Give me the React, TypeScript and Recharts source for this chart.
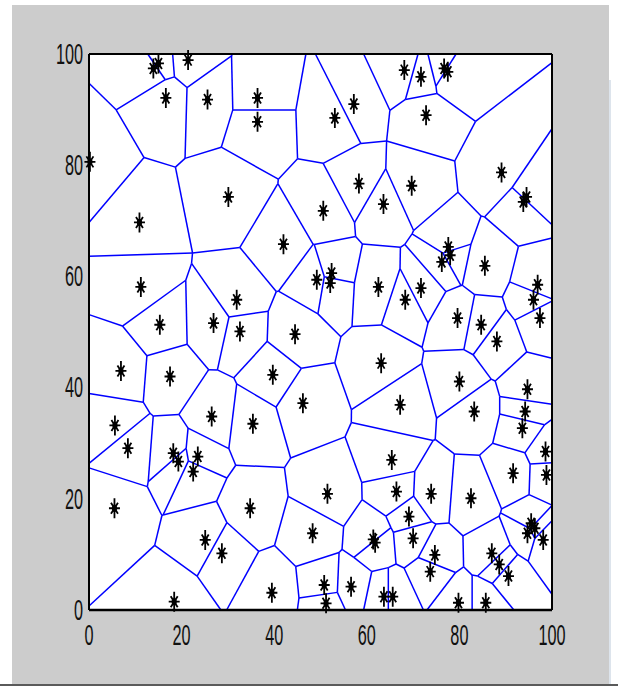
import { ScatterChart, Scatter, XAxis, YAxis, ReferenceLine } from 'recharts';

// seed points (x, y)
const pointX = [
  13.9, 15.0, 21.4, 16.6, 25.6, 0.2, 30.1, 10.9, 36.4, 36.4, 53.1, 57.2, 58.3, 63.6, 50.6, 42.0,
  68.1, 71.7, 76.7, 77.5, 72.8, 89.1, 94.5, 93.8, 69.7, 77.6, 78.0, 76.2, 85.5, 71.7, 68.3, 96.9,
  96.0, 97.4, 79.6, 84.7, 88.1, 80.0, 94.7, 94.2, 93.6, 83.2, 67.2, 11.2, 15.3, 31.9, 26.9, 32.6,
  6.9, 17.5, 5.6, 26.5, 49.2, 52.4, 52.1, 62.5, 44.5, 63.1, 39.7, 46.2, 35.4, 8.4, 18.2, 19.3,
  23.5, 22.5, 5.5, 25.1, 28.7, 18.4, 65.4, 66.4, 51.5, 34.8, 48.3, 61.4, 61.8, 39.5, 50.8, 51.2,
  56.6, 63.7, 65.6, 98.6, 98.8, 91.6, 73.9, 82.5, 69.1, 70.0, 95.5, 96.3, 94.7, 98.1, 74.7, 73.7,
  87.0, 88.6, 90.6, 79.8, 85.7,
];
const pointY = [
  97.4, 98.3, 98.9, 92.1, 91.8, 80.6, 74.3, 69.7, 92.1, 87.8, 88.5, 91.0, 76.7, 73.0, 71.8, 65.8,
  97.1, 95.9, 97.4, 96.8, 89.0, 78.7, 74.3, 73.4, 76.3, 65.3, 63.8, 62.6, 61.9, 57.9, 55.8, 58.5,
  55.8, 52.5, 52.5, 51.3, 48.3, 41.1, 39.7, 35.7, 32.7, 35.7, 36.9, 58.1, 51.3, 55.8, 51.6, 50.1,
  43.0, 42.0, 33.2, 34.8, 59.4, 60.6, 58.8, 58.1, 49.6, 44.4, 42.3, 37.2, 33.5, 29.1, 28.2, 26.7,
  27.6, 24.9, 18.3, 12.6, 10.2, 1.5, 27.0, 21.3, 20.9, 18.3, 13.8, 12.7, 12.1, 3.1, 4.5, 1.2,
  4.2, 2.4, 2.4, 28.5, 24.3, 24.6, 20.9, 20.1, 16.8, 12.9, 15.6, 14.7, 13.8, 12.6, 9.9, 6.9,
  10.2, 8.2, 6.1, 1.3, 1.3,
];

const xTicks = [0, 20, 40, 60, 80, 100];
const yTicks = [0, 20, 40, 60, 80, 100];
const domain: [number, number] = [0, 100];

const points = pointX.map((x, i) => ({ x, y: pointY[i] }));

type V = { x: number; y: number; e: number };

// each cell = box clipped by the bisectors; e holds the neighbour index of the edge
function voronoiEdges(px: number[], py: number[], lo: number, hi: number) {
  const segs: { x1: number; y1: number; x2: number; y2: number }[] = [];
  for (let i = 0; i < px.length; i++) {
    let poly: V[] = [
      { x: lo, y: lo, e: -1 },
      { x: hi, y: lo, e: -1 },
      { x: hi, y: hi, e: -1 },
      { x: lo, y: hi, e: -1 },
    ];
    for (let j = 0; j < px.length; j++) {
      if (j === i || poly.length === 0) continue;
      const nx = px[j] - px[i];
      const ny = py[j] - py[i];
      const mx = (px[i] + px[j]) / 2;
      const my = (py[i] + py[j]) / 2;
      const side = (p: V) => (p.x - mx) * nx + (p.y - my) * ny;
      const out: V[] = [];
      for (let k = 0; k < poly.length; k++) {
        const a = poly[k];
        const b = poly[(k + 1) % poly.length];
        const sa = side(a);
        const sb = side(b);
        if (sa <= 0) out.push({ ...a });
        if (sa <= 0 !== sb <= 0) {
          const t = sa / (sa - sb);
          out.push({ x: a.x + t * (b.x - a.x), y: a.y + t * (b.y - a.y), e: sa <= 0 ? j : a.e });
        }
      }
      poly = out;
    }
    for (let k = 0; k < poly.length; k++) {
      const a = poly[k];
      const b = poly[(k + 1) % poly.length];
      if (a.e > i) segs.push({ x1: a.x, y1: a.y, x2: b.x, y2: b.y });
    }
  }
  return segs;
}

const edges = voronoiEdges(pointX, pointY, 0, 100);

const font = "'Liberation Sans', Arial, sans-serif";

const YTick = ({ x, y, payload }: any) => (
  <text
    transform={`translate(${x},${y}) scale(0.56,1)`}
    textAnchor="end"
    dominantBaseline="central"
    fontSize={29}
    fontFamily={font}
    fill="#111"
  >
    {payload.value}
  </text>
);

const XTick = ({ x, y, payload }: any) => (
  <text
    transform={`translate(${x},${y + 35}) scale(0.56,1)`}
    textAnchor="middle"
    fontSize={29}
    fontFamily={font}
    fill="#111"
  >
    {payload.value}
  </text>
);

// matlab '*' marker, squashed sideways like the screenshot
const Star = ({ cx, cy }: any) => (
  <g>
    <path
      d={`M${cx},${cy - 10}V${cy + 10}M${cx - 5.5},${cy}H${cx + 5.5}M${cx - 3.5},${cy - 5.5}L${cx + 3.5},${cy + 5.5}M${cx - 3.5},${cy + 5.5}L${cx + 3.5},${cy - 5.5}`}
      stroke="#000"
      strokeWidth={1.8}
      fill="none"
    />
    <ellipse cx={cx} cy={cy} rx={2.6} ry={3.4} fill="#000" />
  </g>
);

export default function App() {
  return (
    <div style={{ position: 'absolute', left: 0, top: 0, width: 618, height: 688, background: '#fff', overflow: 'hidden' }}>
      <div style={{ position: 'absolute', left: 12, top: 5, width: 597, height: 679, background: '#cccccc' }} />
      <div style={{ position: 'absolute', left: 609, top: 80, width: 2, height: 604, background: '#dde4ec' }} />
      <div style={{ position: 'absolute', left: 0, top: 684, width: 618, height: 2, background: '#5a5a5a' }} />
      <div style={{ position: 'absolute', left: 89, top: 54, width: 463, height: 556, background: '#fff' }} />
      <div style={{ position: 'absolute', left: 0, top: 0 }}>
        <ScatterChart width={618} height={688} margin={{ top: 54, right: 66, bottom: 48, left: 49 }}>
          <XAxis
            type="number"
            dataKey="x"
            domain={domain}
            ticks={xTicks}
            height={30}
            tickSize={0}
            tickMargin={0}
            tickLine={false}
            axisLine={{ stroke: '#000', strokeWidth: 2.5 }}
            tick={<XTick />}
          />
          <YAxis
            type="number"
            dataKey="y"
            domain={domain}
            ticks={yTicks}
            width={40}
            tickSize={0}
            tickMargin={6}
            tickLine={false}
            axisLine={{ stroke: '#000', strokeWidth: 2 }}
            tick={<YTick />}
          />
          <XAxis xAxisId="bin" type="number" orientation="bottom" mirror domain={domain} ticks={xTicks} tick={false} tickSize={5} axisLine={false} tickLine={{ stroke: '#000', strokeWidth: 1.5 }} />
          <XAxis xAxisId="top" type="number" orientation="top" mirror domain={domain} ticks={xTicks} tick={false} tickSize={5} axisLine={{ stroke: '#000', strokeWidth: 2 }} tickLine={{ stroke: '#000', strokeWidth: 1.5 }} />
          <YAxis yAxisId="lin" type="number" orientation="left" mirror domain={domain} ticks={yTicks} tick={false} tickSize={5} axisLine={false} tickLine={{ stroke: '#000', strokeWidth: 1.5 }} />
          <YAxis yAxisId="right" type="number" orientation="right" mirror domain={domain} ticks={yTicks} tick={false} tickSize={5} axisLine={{ stroke: '#000', strokeWidth: 2 }} tickLine={{ stroke: '#000', strokeWidth: 1.5 }} />
          {edges.map((s, i) => (
            <ReferenceLine
              key={i}
              segment={[{ x: s.x1, y: s.y1 }, { x: s.x2, y: s.y2 }]}
              stroke="#0000ff"
              strokeWidth={1.5}
              ifOverflow="visible"
            />
          ))}
          <Scatter data={points} shape={<Star />} isAnimationActive={false} />
        </ScatterChart>
      </div>
    </div>
  );
}
